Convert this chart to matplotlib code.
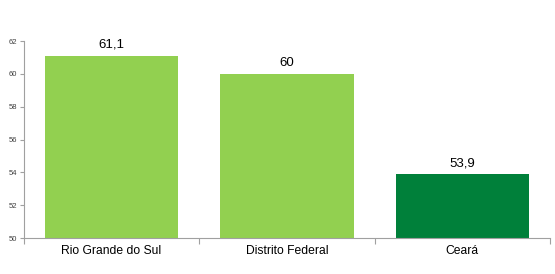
import matplotlib.pyplot as plt

estados = ["Rio Grande do Sul", "Distrito Federal", "Ceará"]
valores = [61.1, 60, 53.9]
rotulos = ["61,1", "60", "53,9"]
cores = ["#92D050", "#92D050", "#00803A"]

plt.rcParams['font.family'] = ['Liberation Sans', 'DejaVu Sans']

fig = plt.figure(figsize=(5.55, 2.74), dpi=100)
ax = fig.add_axes([0.043, 0.131, 0.948, 0.719])

x = range(len(estados))
ax.bar(x, [v - 50 for v in valores], bottom=50, width=0.76, color=cores)

for i, (v, r) in enumerate(zip(valores, rotulos)):
    ax.text(i, v + 0.3, r, ha='center', va='bottom', fontsize=9.5, color='black')

ax.set_ylim(50, 62)
ax.set_xlim(-0.5, 2.5)
ax.set_yticks(range(50, 63, 2))
ax.tick_params(axis='y', labelsize=5.5, labelcolor='#404040', length=3, color='#A0A0A0', width=0.8, pad=2)

# rótulos das categorias e marcas entre elas
ax.set_xticks([-0.5, 0.5, 1.5, 2.5])
ax.set_xticklabels([])
ax.tick_params(axis='x', length=4, color='#A0A0A0', width=0.8)
for i, e in enumerate(estados):
    ax.text(i, 49.55, e, ha='center', va='top', fontsize=8.7, color='black')

for s in ['top', 'right']:
    ax.spines[s].set_visible(False)
for s in ['left', 'bottom']:
    ax.spines[s].set_color('#A0A0A0')
    ax.spines[s].set_linewidth(0.8)

fig.savefig('out.png', dpi=100)
